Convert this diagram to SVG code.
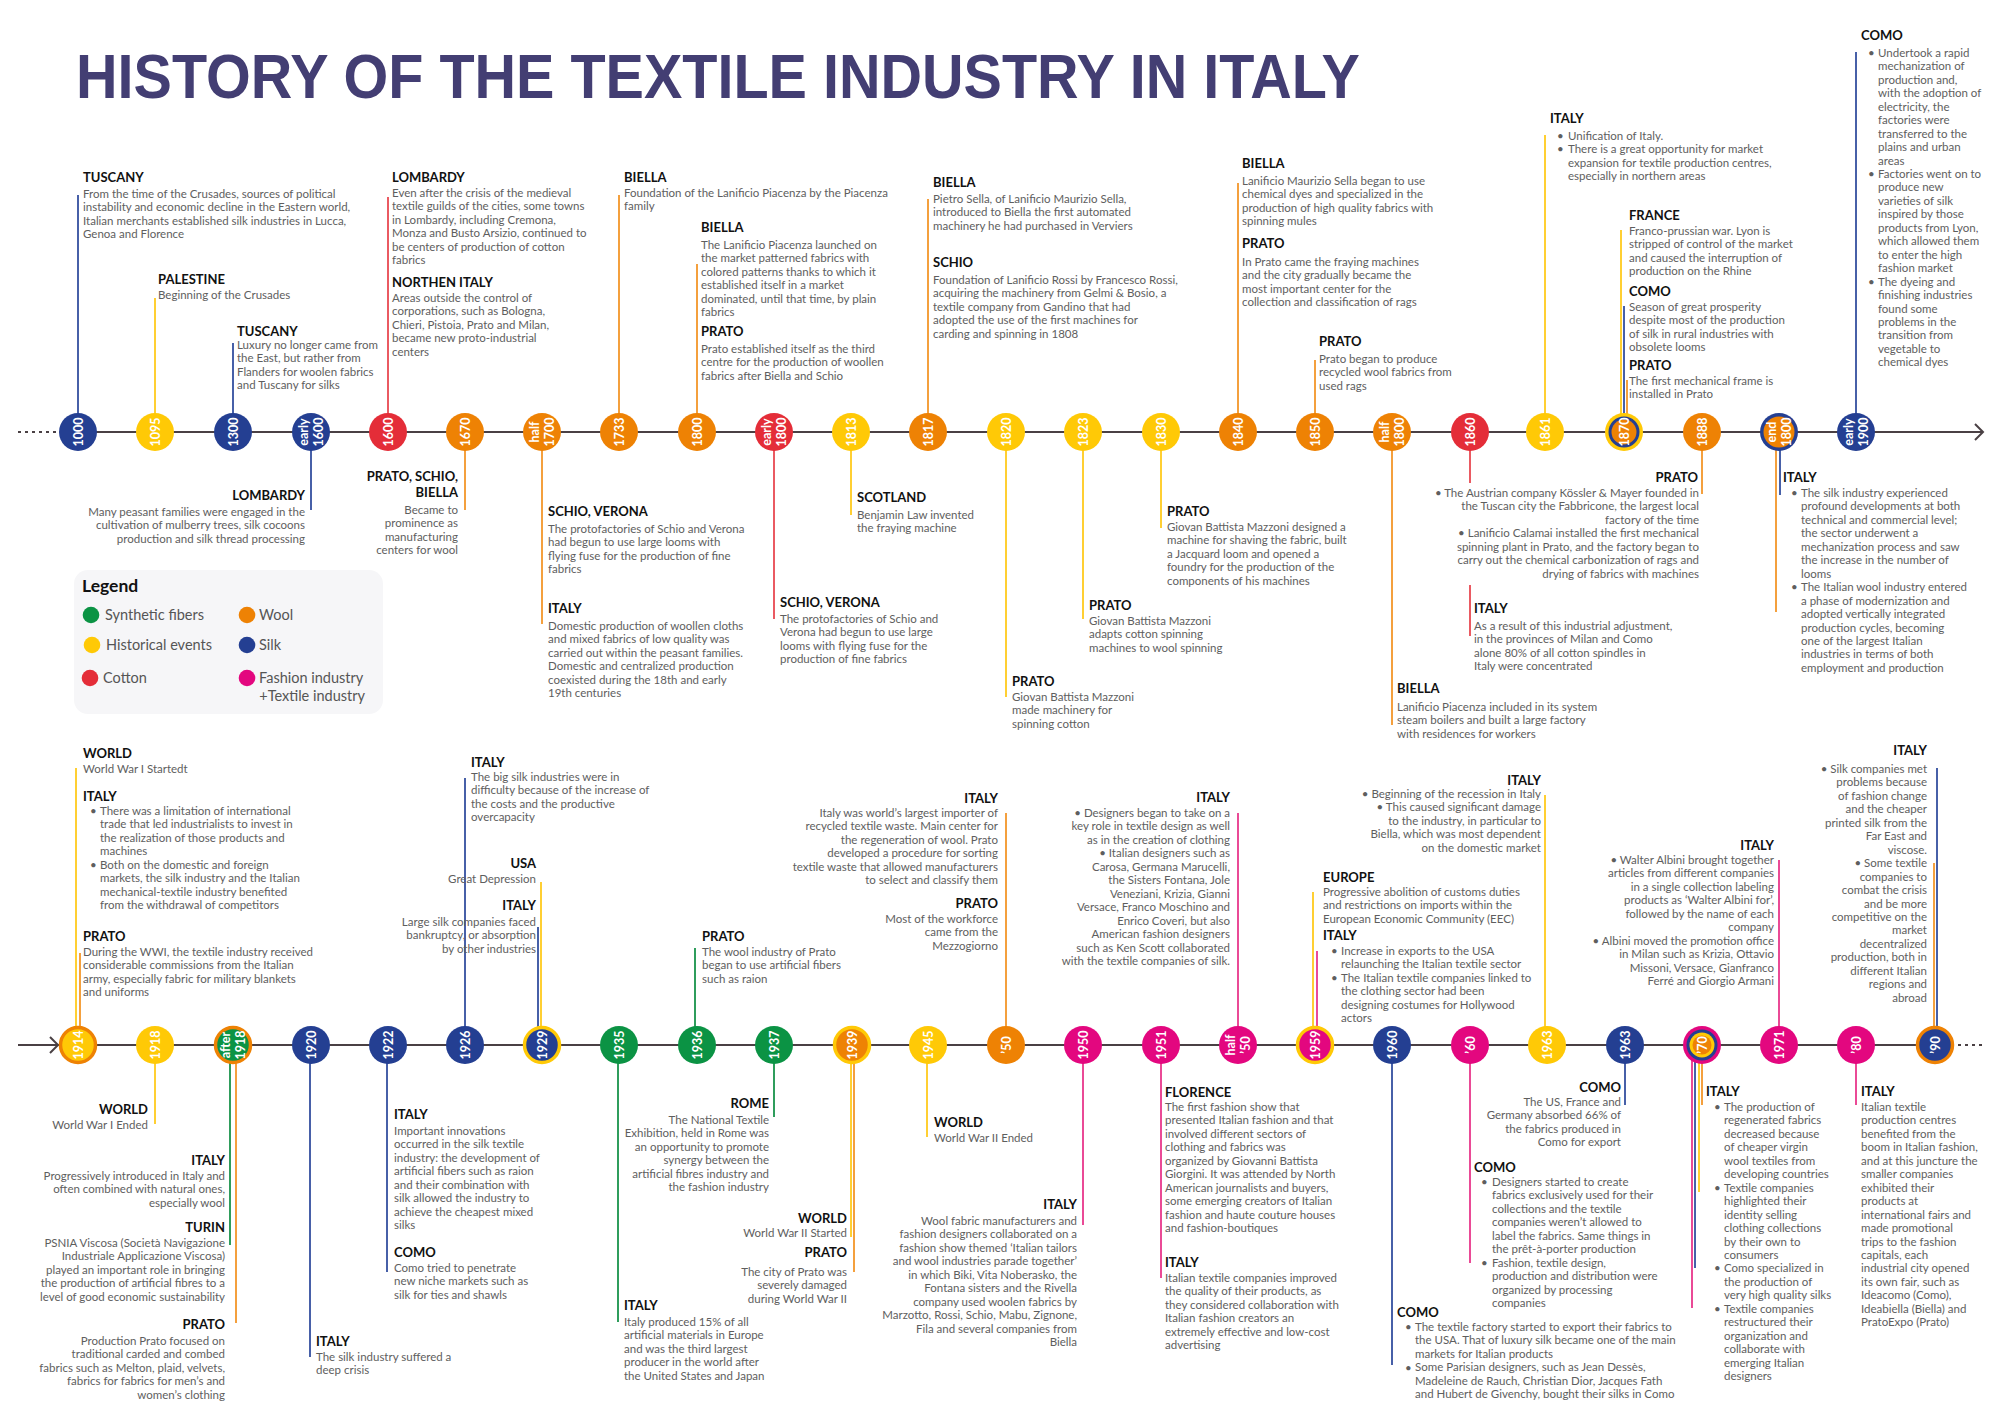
<svg xmlns="http://www.w3.org/2000/svg" width="2000" height="1415" viewBox="0 0 2000 1415">
<style>
.h{font-family:Lato,'Liberation Sans',sans-serif;font-weight:700;font-size:13px;fill:#111}
.t{font-family:Lato,'Liberation Sans',sans-serif;font-size:11.5px;fill:#5e5e5e}
.e{text-anchor:end}
.y{font-family:Lato,'Liberation Sans',sans-serif;font-weight:700;font-size:12.5px;fill:#fff;text-anchor:middle}
.lg{font-family:Lato,'Liberation Sans',sans-serif;font-size:14.5px;fill:#555}
.fb{fill:#243f92}.fo{fill:#ee8204}.fy{fill:#ffc906}.fr{fill:#e42d38}.fg{fill:#0b9344}.fm{fill:#e3077f}
#connectors line{stroke-width:2}
.cb{stroke:#4760a8}.co{stroke:#f4a03e}.cy{stroke:#ffcf33}.cr{stroke:#ea5a62}.cg{stroke:#2f9d5c}.cm{stroke:#ea4a96}
.axis{stroke:#4a4044;stroke-width:2;fill:none}
.dots{stroke:#4a4044;stroke-width:2;stroke-dasharray:3 4}
</style>
<rect width="2000" height="1415" fill="#fff"/>

<text x="76" y="98" font-family="'Liberation Sans',sans-serif" font-weight="700" font-size="63" fill="#433e73" textLength="1284" lengthAdjust="spacingAndGlyphs">HISTORY OF THE TEXTILE INDUSTRY IN ITALY</text>

<!-- axes -->
<g id="axes">
<line class="dots" x1="18" y1="432" x2="57" y2="432"/>
<line class="axis" x1="78" y1="432" x2="1982" y2="432"/>
<polyline class="axis" points="1975,424 1983,432 1975,440"/>
<line class="axis" x1="18" y1="1045" x2="1935" y2="1045"/>
<polyline class="axis" points="50,1037 58,1045 50,1053"/>
<line class="dots" x1="1958" y1="1045" x2="1985" y2="1045"/>
</g>

<!-- vertical leader lines -->
<g id="connectors">
<line class="cb" x1="78" y1="195" x2="78" y2="432"/>
<line class="cy" x1="155" y1="298" x2="155" y2="432"/>
<line class="cb" x1="233" y1="343" x2="233" y2="432"/>
<line class="cb" x1="311" y1="432" x2="311" y2="510"/>
<line class="cr" x1="388" y1="197" x2="388" y2="432"/>
<line class="co" x1="465" y1="432" x2="465" y2="510"/>
<line class="co" x1="542" y1="432" x2="542" y2="624"/>
<line class="co" x1="619" y1="195" x2="619" y2="432"/>
<line class="co" x1="697" y1="264" x2="697" y2="432"/>
<line class="cr" x1="774" y1="432" x2="774" y2="619"/>
<line class="cy" x1="851" y1="432" x2="851" y2="515"/>
<line class="co" x1="928" y1="199" x2="928" y2="432"/>
<line class="cy" x1="1006" y1="432" x2="1006" y2="697"/>
<line class="cy" x1="1083" y1="432" x2="1083" y2="619"/>
<line class="cy" x1="1161" y1="432" x2="1161" y2="528"/>
<line class="co" x1="1238" y1="183" x2="1238" y2="432"/>
<line class="co" x1="1315" y1="360" x2="1315" y2="432"/>
<line class="co" x1="1392" y1="432" x2="1392" y2="725"/>
<line class="cr" x1="1470" y1="432" x2="1470" y2="483"/>
<line class="cr" x1="1470" y1="585" x2="1470" y2="636"/>
<line class="cy" x1="1545" y1="135" x2="1545" y2="432"/>
<line class="cy" x1="1621" y1="230" x2="1621" y2="432"/>
<line class="cb" x1="1624" y1="306" x2="1624" y2="432"/>
<line class="co" x1="1627" y1="380" x2="1627" y2="432"/>
<line class="co" x1="1702" y1="432" x2="1702" y2="494"/>
<line class="co" x1="1776" y1="432" x2="1776" y2="612"/>
<line class="cb" x1="1780" y1="432" x2="1780" y2="495"/>
<line class="cb" x1="1856" y1="52" x2="1856" y2="432"/>

<line class="cy" x1="76" y1="768" x2="76" y2="1045"/>
<line class="co" x1="80" y1="953" x2="80" y2="1045"/>
<line class="cy" x1="155" y1="1045" x2="155" y2="1124"/>
<line class="cg" x1="230" y1="1045" x2="230" y2="1245"/>
<line class="co" x1="236" y1="1045" x2="236" y2="1323"/>
<line class="cb" x1="310" y1="1045" x2="310" y2="1357"/>
<line class="cb" x1="387" y1="1045" x2="387" y2="1272"/>
<line class="cb" x1="465" y1="778" x2="465" y2="1045"/>
<line class="cb" x1="538" y1="927" x2="538" y2="1045"/>
<line class="cy" x1="541" y1="882" x2="541" y2="1045"/>
<line class="cg" x1="618" y1="1045" x2="618" y2="1322"/>
<line class="cg" x1="695" y1="948" x2="695" y2="1045"/>
<line class="cg" x1="774" y1="1045" x2="774" y2="1117"/>
<line class="cy" x1="851" y1="1045" x2="851" y2="1237"/>
<line class="co" x1="854" y1="1045" x2="854" y2="1272"/>
<line class="cy" x1="927" y1="1045" x2="927" y2="1137"/>
<line class="co" x1="1006" y1="813" x2="1006" y2="1045"/>
<line class="cm" x1="1083" y1="1045" x2="1083" y2="1225"/>
<line class="cm" x1="1161" y1="1045" x2="1161" y2="1278"/>
<line class="cm" x1="1238" y1="813" x2="1238" y2="1045"/>
<line class="cy" x1="1313" y1="892" x2="1313" y2="1045"/>
<line class="cm" x1="1317" y1="951" x2="1317" y2="1045"/>
<line class="cb" x1="1392" y1="1045" x2="1392" y2="1365"/>
<line class="cm" x1="1470" y1="1045" x2="1470" y2="1263"/>
<line class="cy" x1="1545" y1="795" x2="1545" y2="1045"/>
<line class="cb" x1="1625" y1="1045" x2="1625" y2="1105"/>
<line class="cm" x1="1692" y1="1045" x2="1692" y2="1308"/>
<line class="cb" x1="1695" y1="1045" x2="1695" y2="1268"/>
<line class="cy" x1="1699" y1="1045" x2="1699" y2="1192"/>
<line class="co" x1="1702" y1="1045" x2="1702" y2="1105"/>
<line class="cm" x1="1779" y1="860" x2="1779" y2="1045"/>
<line class="cm" x1="1856" y1="1045" x2="1856" y2="1105"/>
<line class="co" x1="1934" y1="863" x2="1934" y2="1045"/>
<line class="cb" x1="1937" y1="768" x2="1937" y2="1045"/>
</g>

<!-- year markers, upper line -->
<g id="y1000" transform="translate(78,432)"><circle r="19" class="fb"/><text class="y" transform="rotate(-90)" y="4.5">1000</text></g>
<g id="y1095" transform="translate(155,432)"><circle r="19" class="fy"/><text class="y" transform="rotate(-90)" y="4.5">1095</text></g>
<g id="y1300" transform="translate(233,432)"><circle r="19" class="fb"/><text class="y" transform="rotate(-90)" y="4.5">1300</text></g>
<g id="yearly1600" transform="translate(311,432)"><circle r="19" class="fb"/><text class="y" transform="rotate(-90)"><tspan x="0" y="-3">early</tspan><tspan x="0" y="11.5">1600</tspan></text></g>
<g id="y1600" transform="translate(388,432)"><circle r="19" class="fr"/><text class="y" transform="rotate(-90)" y="4.5">1600</text></g>
<g id="y1670" transform="translate(465,432)"><circle r="19" class="fo"/><text class="y" transform="rotate(-90)" y="4.5">1670</text></g>
<g id="yhalf1700" transform="translate(542,432)"><circle r="19" class="fo"/><text class="y" transform="rotate(-90)"><tspan x="0" y="-3">half</tspan><tspan x="0" y="11.5">1700</tspan></text></g>
<g id="y1733" transform="translate(619,432)"><circle r="19" class="fo"/><text class="y" transform="rotate(-90)" y="4.5">1733</text></g>
<g id="y1800" transform="translate(697,432)"><circle r="19" class="fo"/><text class="y" transform="rotate(-90)" y="4.5">1800</text></g>
<g id="yearly1800" transform="translate(774,432)"><circle r="19" class="fr"/><text class="y" transform="rotate(-90)"><tspan x="0" y="-3">early</tspan><tspan x="0" y="11.5">1800</tspan></text></g>
<g id="y1813" transform="translate(851,432)"><circle r="19" class="fy"/><text class="y" transform="rotate(-90)" y="4.5">1813</text></g>
<g id="y1817" transform="translate(928,432)"><circle r="19" class="fo"/><text class="y" transform="rotate(-90)" y="4.5">1817</text></g>
<g id="y1820" transform="translate(1006,432)"><circle r="19" class="fy"/><text class="y" transform="rotate(-90)" y="4.5">1820</text></g>
<g id="y1823" transform="translate(1083,432)"><circle r="19" class="fy"/><text class="y" transform="rotate(-90)" y="4.5">1823</text></g>
<g id="y1830" transform="translate(1161,432)"><circle r="19" class="fy"/><text class="y" transform="rotate(-90)" y="4.5">1830</text></g>
<g id="y1840" transform="translate(1238,432)"><circle r="19" class="fo"/><text class="y" transform="rotate(-90)" y="4.5">1840</text></g>
<g id="y1850" transform="translate(1315,432)"><circle r="19" class="fo"/><text class="y" transform="rotate(-90)" y="4.5">1850</text></g>
<g id="yhalf1800" transform="translate(1392,432)"><circle r="19" class="fo"/><text class="y" transform="rotate(-90)"><tspan x="0" y="-3">half</tspan><tspan x="0" y="11.5">1800</tspan></text></g>
<g id="y1860" transform="translate(1470,432)"><circle r="19" class="fr"/><text class="y" transform="rotate(-90)" y="4.5">1860</text></g>
<g id="y1861" transform="translate(1545,432)"><circle r="19" class="fy"/><text class="y" transform="rotate(-90)" y="4.5">1861</text></g>
<g id="y1870" transform="translate(1624,432)"><circle r="19" class="fy"/><circle r="15.5" class="fb"/><circle r="12.5" class="fo"/><text class="y" transform="rotate(-90)" y="4.5">1870</text></g>
<g id="y1888" transform="translate(1702,432)"><circle r="19" class="fo"/><text class="y" transform="rotate(-90)" y="4.5">1888</text></g>
<g id="yend1800" transform="translate(1779,432)"><circle r="19" class="fb"/><circle r="15.5" class="fo"/><text class="y" transform="rotate(-90)"><tspan x="0" y="-3">end</tspan><tspan x="0" y="11.5">1800</tspan></text></g>
<g id="yearly1900" transform="translate(1856,432)"><circle r="19" class="fb"/><text class="y" transform="rotate(-90)"><tspan x="0" y="-3">early</tspan><tspan x="0" y="11.5">1900</tspan></text></g>

<!-- year markers, lower line -->
<g id="y1914" transform="translate(78,1045)"><circle r="17.5" class="fy" stroke="#ee8204" stroke-width="3.5"/><text class="y" transform="rotate(-90)" y="4.5">1914</text></g>
<g id="y1918" transform="translate(155,1045)"><circle r="19" class="fy"/><text class="y" transform="rotate(-90)" y="4.5">1918</text></g>
<g id="yafter1918" transform="translate(233,1045)"><circle r="17.5" class="fg" stroke="#ee8204" stroke-width="3.5"/><text class="y" transform="rotate(-90)"><tspan x="0" y="-3">after</tspan><tspan x="0" y="11.5">1918</tspan></text></g>
<g id="y1920" transform="translate(311,1045)"><circle r="19" class="fb"/><text class="y" transform="rotate(-90)" y="4.5">1920</text></g>
<g id="y1922" transform="translate(388,1045)"><circle r="19" class="fb"/><text class="y" transform="rotate(-90)" y="4.5">1922</text></g>
<g id="y1926" transform="translate(465,1045)"><circle r="19" class="fb"/><text class="y" transform="rotate(-90)" y="4.5">1926</text></g>
<g id="y1929" transform="translate(542,1045)"><circle r="17.5" class="fb" stroke="#ffc906" stroke-width="3.5"/><text class="y" transform="rotate(-90)" y="4.5">1929</text></g>
<g id="y1935" transform="translate(619,1045)"><circle r="19" class="fg"/><text class="y" transform="rotate(-90)" y="4.5">1935</text></g>
<g id="y1936" transform="translate(697,1045)"><circle r="19" class="fg"/><text class="y" transform="rotate(-90)" y="4.5">1936</text></g>
<g id="y1937" transform="translate(774,1045)"><circle r="19" class="fg"/><text class="y" transform="rotate(-90)" y="4.5">1937</text></g>
<g id="y1939" transform="translate(852,1045)"><circle r="17.5" class="fo" stroke="#ffc906" stroke-width="3.5"/><text class="y" transform="rotate(-90)" y="4.5">1939</text></g>
<g id="y1945" transform="translate(928,1045)"><circle r="19" class="fy"/><text class="y" transform="rotate(-90)" y="4.5">1945</text></g>
<g id="y50" transform="translate(1006,1045)"><circle r="19" class="fo"/><text class="y" transform="rotate(-90)" y="4.5">’50</text></g>
<g id="y1950" transform="translate(1083,1045)"><circle r="19" class="fm"/><text class="y" transform="rotate(-90)" y="4.5">1950</text></g>
<g id="y1951" transform="translate(1161,1045)"><circle r="19" class="fm"/><text class="y" transform="rotate(-90)" y="4.5">1951</text></g>
<g id="yhalf50" transform="translate(1238,1045)"><circle r="19" class="fm"/><text class="y" transform="rotate(-90)"><tspan x="0" y="-3">half</tspan><tspan x="0" y="11.5">’50</tspan></text></g>
<g id="y1959" transform="translate(1315,1045)"><circle r="17.5" class="fm" stroke="#ffc906" stroke-width="3.5"/><text class="y" transform="rotate(-90)" y="4.5">1959</text></g>
<g id="y1960" transform="translate(1392,1045)"><circle r="19" class="fb"/><text class="y" transform="rotate(-90)" y="4.5">1960</text></g>
<g id="y60" transform="translate(1470,1045)"><circle r="19" class="fm"/><text class="y" transform="rotate(-90)" y="4.5">’60</text></g>
<g id="y1963a" transform="translate(1547,1045)"><circle r="19" class="fy"/><text class="y" transform="rotate(-90)" y="4.5">1963</text></g>
<g id="y1963b" transform="translate(1625,1045)"><circle r="19" class="fb"/><text class="y" transform="rotate(-90)" y="4.5">1963</text></g>
<g id="y70" transform="translate(1702,1045)"><circle r="19" class="fm"/><circle r="15.5" class="fb"/><circle r="12.5" class="fy"/><circle r="9.5" class="fo"/><text class="y" transform="rotate(-90)" y="4.5" font-size="11">’70</text></g>
<g id="y1971" transform="translate(1779,1045)"><circle r="19" class="fm"/><text class="y" transform="rotate(-90)" y="4.5">1971</text></g>
<g id="y80" transform="translate(1856,1045)"><circle r="19" class="fm"/><text class="y" transform="rotate(-90)" y="4.5">’80</text></g>
<g id="y90" transform="translate(1935,1045)"><circle r="17.5" class="fb" stroke="#ee8204" stroke-width="3.5"/><text class="y" transform="rotate(-90)" y="4.5">’90</text></g>

<!-- legend -->
<g id="legend">
<rect x="74" y="570" width="309" height="144" rx="14" fill="#f6f6f8"/>
<text x="82" y="592" font-family="Lato,'Liberation Sans',sans-serif" font-weight="700" font-size="17.5" fill="#111">Legend</text>
<circle cx="91" cy="615" r="8.3" class="fg"/><text class="lg" x="105" y="620">Synthetic fibers</text>
<circle cx="92" cy="645" r="8.3" class="fy"/><text class="lg" x="106" y="650">Historical events</text>
<circle cx="90" cy="678" r="8.3" class="fr"/><text class="lg" x="103" y="683">Cotton</text>
<circle cx="247" cy="615" r="8.3" class="fo"/><text class="lg" x="259" y="620">Wool</text>
<circle cx="247" cy="645" r="8.3" class="fb"/><text class="lg" x="259" y="650">Silk</text>
<circle cx="247" cy="678" r="8.3" class="fm"/><text class="lg" x="259" y="683">Fashion industry</text>
<text class="lg e" x="365" y="701">+Textile industry</text>
</g>

<!-- upper line annotations -->
<g id="n1000">
<text class="h" x="83" y="182">TUSCANY</text>
<text class="t"><tspan x="83" y="198">From the time of the Crusades, sources of political</tspan><tspan x="83" dy="13.45">instability and economic decline in the Eastern world,</tspan><tspan x="83" dy="13.45">Italian merchants established silk industries in Lucca,</tspan><tspan x="83" dy="13.45">Genoa and Florence</tspan></text>
</g>
<g id="n1095">
<text class="h" x="158" y="284">PALESTINE</text>
<text class="t" x="158" y="299">Beginning of the Crusades</text>
</g>
<g id="n1300">
<text class="h" x="237" y="336">TUSCANY</text>
<text class="t"><tspan x="237" y="349">Luxury no longer came from</tspan><tspan x="237" dy="13.45">the East, but rather from</tspan><tspan x="237" dy="13.45">Flanders for woolen fabrics</tspan><tspan x="237" dy="13.45">and Tuscany for silks</tspan></text>
</g>
<g id="nearly1600">
<text class="h e" x="305" y="500">LOMBARDY</text>
<text class="t e"><tspan x="305" y="516">Many peasant families were engaged in the</tspan><tspan x="305" dy="13.45">cultivation of mulberry trees, silk cocoons</tspan><tspan x="305" dy="13.45">production and silk thread processing</tspan></text>
</g>
<g id="n1600">
<text class="h" x="392" y="182">LOMBARDY</text>
<text class="t"><tspan x="392" y="197">Even after the crisis of the medieval</tspan><tspan x="392" dy="13.45">textile guilds of the cities, some towns</tspan><tspan x="392" dy="13.45">in Lombardy, including Cremona,</tspan><tspan x="392" dy="13.45">Monza and Busto Arsizio, continued to</tspan><tspan x="392" dy="13.45">be centers of production of cotton</tspan><tspan x="392" dy="13.45">fabrics</tspan></text>
<text class="h" x="392" y="287">NORTHEN ITALY</text>
<text class="t"><tspan x="392" y="302">Areas outside the control of</tspan><tspan x="392" dy="13.45">corporations, such as Bologna,</tspan><tspan x="392" dy="13.45">Chieri, Pistoia, Prato and Milan,</tspan><tspan x="392" dy="13.45">became new proto-industrial</tspan><tspan x="392" dy="13.45">centers</tspan></text>
</g>
<g id="n1670">
<text class="h e"><tspan x="458" y="481">PRATO, SCHIO,</tspan><tspan x="458" y="497">BIELLA</tspan></text>
<text class="t e"><tspan x="458" y="514">Became to</tspan><tspan x="458" dy="13.45">prominence as</tspan><tspan x="458" dy="13.45">manufacturing</tspan><tspan x="458" dy="13.45">centers for wool</tspan></text>
</g>
<g id="nhalf1700">
<text class="h" x="548" y="516">SCHIO, VERONA</text>
<text class="t"><tspan x="548" y="533">The protofactories of Schio and Verona</tspan><tspan x="548" dy="13.45">had begun to use large looms with</tspan><tspan x="548" dy="13.45">flying fuse for the production of fine</tspan><tspan x="548" dy="13.45">fabrics</tspan></text>
<text class="h" x="548" y="613">ITALY</text>
<text class="t"><tspan x="548" y="630">Domestic production of woollen cloths</tspan><tspan x="548" dy="13.45">and mixed fabrics of low quality was</tspan><tspan x="548" dy="13.45">carried out within the peasant families.</tspan><tspan x="548" dy="13.45">Domestic and centralized production</tspan><tspan x="548" dy="13.45">coexisted during the 18th and early</tspan><tspan x="548" dy="13.45">19th centuries</tspan></text>
</g>
<g id="n1733">
<text class="h" x="624" y="182">BIELLA</text>
<text class="t"><tspan x="624" y="197">Foundation of the Lanificio Piacenza by the Piacenza</tspan><tspan x="624" dy="13.45">family</tspan></text>
</g>
<g id="n1800">
<text class="h" x="701" y="232">BIELLA</text>
<text class="t"><tspan x="701" y="249">The Lanificio Piacenza launched on</tspan><tspan x="701" dy="13.45">the market patterned fabrics with</tspan><tspan x="701" dy="13.45">colored patterns thanks to which it</tspan><tspan x="701" dy="13.45">established itself in a market</tspan><tspan x="701" dy="13.45">dominated, until that time, by plain</tspan><tspan x="701" dy="13.45">fabrics</tspan></text>
<text class="h" x="701" y="336">PRATO</text>
<text class="t"><tspan x="701" y="353">Prato established itself as the third</tspan><tspan x="701" dy="13.45">centre for the production of woollen</tspan><tspan x="701" dy="13.45">fabrics after Biella and Schio</tspan></text>
</g>
<g id="nearly1800">
<text class="h" x="780" y="607">SCHIO, VERONA</text>
<text class="t"><tspan x="780" y="623">The protofactories of Schio and</tspan><tspan x="780" dy="13.45">Verona had begun to use large</tspan><tspan x="780" dy="13.45">looms with flying fuse for the</tspan><tspan x="780" dy="13.45">production of fine fabrics</tspan></text>
</g>
<g id="n1813">
<text class="h" x="857" y="502">SCOTLAND</text>
<text class="t"><tspan x="857" y="519">Benjamin Law invented</tspan><tspan x="857" dy="13.45">the fraying machine</tspan></text>
</g>
<g id="n1817">
<text class="h" x="933" y="187">BIELLA</text>
<text class="t"><tspan x="933" y="203">Pietro Sella, of Lanificio Maurizio Sella,</tspan><tspan x="933" dy="13.45">introduced to Biella the first automated</tspan><tspan x="933" dy="13.45">machinery he had purchased in Verviers</tspan></text>
<text class="h" x="933" y="267">SCHIO</text>
<text class="t"><tspan x="933" y="284">Foundation of Lanificio Rossi by Francesco Rossi,</tspan><tspan x="933" dy="13.45">acquiring the machinery from Gelmi &amp; Bosio, a</tspan><tspan x="933" dy="13.45">textile company from Gandino that had</tspan><tspan x="933" dy="13.45">adopted the use of the first machines for</tspan><tspan x="933" dy="13.45">carding and spinning in 1808</tspan></text>
</g>
<g id="n1820">
<text class="h" x="1012" y="686">PRATO</text>
<text class="t"><tspan x="1012" y="701">Giovan Battista Mazzoni</tspan><tspan x="1012" dy="13.45">made machinery for</tspan><tspan x="1012" dy="13.45">spinning cotton</tspan></text>
</g>
<g id="n1823">
<text class="h" x="1089" y="610">PRATO</text>
<text class="t"><tspan x="1089" y="625">Giovan Battista Mazzoni</tspan><tspan x="1089" dy="13.45">adapts cotton spinning</tspan><tspan x="1089" dy="13.45">machines to wool spinning</tspan></text>
</g>
<g id="n1830">
<text class="h" x="1167" y="516">PRATO</text>
<text class="t"><tspan x="1167" y="531">Giovan Battista Mazzoni designed a</tspan><tspan x="1167" dy="13.45">machine for shaving the fabric, built</tspan><tspan x="1167" dy="13.45">a Jacquard loom and opened a</tspan><tspan x="1167" dy="13.45">foundry for the production of the</tspan><tspan x="1167" dy="13.45">components of his machines</tspan></text>
</g>
<g id="n1840">
<text class="h" x="1242" y="168">BIELLA</text>
<text class="t"><tspan x="1242" y="185">Lanificio Maurizio Sella began to use</tspan><tspan x="1242" dy="13.45">chemical dyes and specialized in the</tspan><tspan x="1242" dy="13.45">production of high quality fabrics with</tspan><tspan x="1242" dy="13.45">spinning mules</tspan></text>
<text class="h" x="1242" y="248">PRATO</text>
<text class="t"><tspan x="1242" y="266">In Prato came the fraying machines</tspan><tspan x="1242" dy="13.45">and the city gradually became the</tspan><tspan x="1242" dy="13.45">most important center for the</tspan><tspan x="1242" dy="13.45">collection and classification of rags</tspan></text>
</g>
<g id="n1850">
<text class="h" x="1319" y="346">PRATO</text>
<text class="t"><tspan x="1319" y="363">Prato began to produce</tspan><tspan x="1319" dy="13.45">recycled wool fabrics from</tspan><tspan x="1319" dy="13.45">used rags</tspan></text>
</g>
<g id="nhalf1800">
<text class="h" x="1397" y="693">BIELLA</text>
<text class="t"><tspan x="1397" y="711">Lanificio Piacenza included in its system</tspan><tspan x="1397" dy="13.45">steam boilers and built a large factory</tspan><tspan x="1397" dy="13.45">with residences for workers</tspan></text>
</g>
<g id="n1860">
<text class="h" x="1474" y="613">ITALY</text>
<text class="t"><tspan x="1474" y="630">As a result of this industrial adjustment,</tspan><tspan x="1474" dy="13.45">in the provinces of Milan and Como</tspan><tspan x="1474" dy="13.45">alone 80% of all cotton spindles in</tspan><tspan x="1474" dy="13.45">Italy were concentrated</tspan></text>
</g>
<g id="n1888">
<text class="h e" x="1698" y="482">PRATO</text>
<text class="t e"><tspan x="1699" y="497">•  The Austrian company Kössler &amp; Mayer founded in</tspan><tspan x="1699" dy="13.45">the Tuscan city the Fabbricone, the largest local</tspan><tspan x="1699" dy="13.45">factory of the time</tspan><tspan x="1699" dy="13.45">•  Lanificio Calamai installed the first mechanical</tspan><tspan x="1699" dy="13.45">spinning plant in Prato, and the factory began to</tspan><tspan x="1699" dy="13.45">carry out the chemical carbonization of rags and</tspan><tspan x="1699" dy="13.45">drying of fabrics with machines</tspan></text>
</g>
<g id="n1861">
<text class="h" x="1550" y="123">ITALY</text>
<text class="t" fill="#222"><tspan x="1557" y="140">•</tspan><tspan x="1557" y="153">•</tspan></text>
<text class="t"><tspan x="1568" y="140">Unification of Italy.</tspan><tspan x="1568" dy="13.45">There is a great opportunity for market</tspan><tspan x="1568" dy="13.45">expansion for textile production centres,</tspan><tspan x="1568" dy="13.45">especially in northern areas</tspan></text>
</g>
<g id="n1870">
<text class="h" x="1629" y="220">FRANCE</text>
<text class="t"><tspan x="1629" y="235">Franco-prussian war. Lyon is</tspan><tspan x="1629" dy="13.45">stripped of control of the market</tspan><tspan x="1629" dy="13.45">and caused the interruption of</tspan><tspan x="1629" dy="13.45">production on the Rhine</tspan></text>
<text class="h" x="1629" y="296">COMO</text>
<text class="t"><tspan x="1629" y="311">Season of great prosperity</tspan><tspan x="1629" dy="13.45">despite most of the production</tspan><tspan x="1629" dy="13.45">of silk in rural industries with</tspan><tspan x="1629" dy="13.45">obsolete looms</tspan></text>
<text class="h" x="1629" y="370">PRATO</text>
<text class="t"><tspan x="1629" y="385">The first mechanical frame is</tspan><tspan x="1629" dy="13.45">installed in Prato</tspan></text>
</g>
<g id="nend1800">
<text class="h" x="1783" y="482">ITALY</text>
<text class="t" fill="#222"><tspan x="1791" y="497">•</tspan><tspan x="1791" y="591">•</tspan></text>
<text class="t"><tspan x="1801" y="497">The silk industry experienced</tspan><tspan x="1801" dy="13.45">profound developments at both</tspan><tspan x="1801" dy="13.45">technical and commercial level;</tspan><tspan x="1801" dy="13.45">the sector underwent a</tspan><tspan x="1801" dy="13.45">mechanization process and saw</tspan><tspan x="1801" dy="13.45">the increase in the number of</tspan><tspan x="1801" dy="13.45">looms</tspan><tspan x="1801" dy="13.45">The Italian wool industry entered</tspan><tspan x="1801" dy="13.45">a phase of modernization and</tspan><tspan x="1801" dy="13.45">adopted vertically integrated</tspan><tspan x="1801" dy="13.45">production cycles, becoming</tspan><tspan x="1801" dy="13.45">one of the largest Italian</tspan><tspan x="1801" dy="13.45">industries in terms of both</tspan><tspan x="1801" dy="13.45">employment and production</tspan></text>
</g>
<g id="nearly1900">
<text class="h" x="1861" y="40">COMO</text>
<text class="t" fill="#222"><tspan x="1868" y="57">•</tspan><tspan x="1868" y="178">•</tspan><tspan x="1868" y="286">•</tspan></text>
<text class="t"><tspan x="1878" y="57">Undertook a rapid</tspan><tspan x="1878" dy="13.45">mechanization of</tspan><tspan x="1878" dy="13.45">production and,</tspan><tspan x="1878" dy="13.45">with the adoption of</tspan><tspan x="1878" dy="13.45">electricity, the</tspan><tspan x="1878" dy="13.45">factories were</tspan><tspan x="1878" dy="13.45">transferred to the</tspan><tspan x="1878" dy="13.45">plains and urban</tspan><tspan x="1878" dy="13.45">areas</tspan><tspan x="1878" dy="13.45">Factories went on to</tspan><tspan x="1878" dy="13.45">produce new</tspan><tspan x="1878" dy="13.45">varieties of silk</tspan><tspan x="1878" dy="13.45">inspired by those</tspan><tspan x="1878" dy="13.45">products from Lyon,</tspan><tspan x="1878" dy="13.45">which allowed them</tspan><tspan x="1878" dy="13.45">to enter the high</tspan><tspan x="1878" dy="13.45">fashion market</tspan><tspan x="1878" dy="13.45">The dyeing and</tspan><tspan x="1878" dy="13.45">finishing industries</tspan><tspan x="1878" dy="13.45">found some</tspan><tspan x="1878" dy="13.45">problems in the</tspan><tspan x="1878" dy="13.45">transition from</tspan><tspan x="1878" dy="13.45">vegetable to</tspan><tspan x="1878" dy="13.45">chemical dyes</tspan></text>
</g>

<!-- lower line annotations -->
<g id="n1914">
<text class="h" x="83" y="758">WORLD</text>
<text class="t" x="83" y="773">World War I Startedt</text>
<text class="h" x="83" y="801">ITALY</text>
<text class="t" fill="#222"><tspan x="90" y="815">•</tspan><tspan x="90" y="869">•</tspan></text>
<text class="t"><tspan x="100" y="815">There was a limitation of international</tspan><tspan x="100" dy="13.45">trade that led industrialists to invest in</tspan><tspan x="100" dy="13.45">the realization of those products and</tspan><tspan x="100" dy="13.45">machines</tspan><tspan x="100" dy="13.45">Both on the domestic and foreign</tspan><tspan x="100" dy="13.45">markets, the silk industry and the Italian</tspan><tspan x="100" dy="13.45">mechanical-textile industry benefited</tspan><tspan x="100" dy="13.45">from the withdrawal of competitors</tspan></text>
<text class="h" x="83" y="941">PRATO</text>
<text class="t"><tspan x="83" y="956">During the WWI, the textile industry received</tspan><tspan x="83" dy="13.45">considerable commissions from the Italian</tspan><tspan x="83" dy="13.45">army, especially fabric for military blankets</tspan><tspan x="83" dy="13.45">and uniforms</tspan></text>
</g>
<g id="n1918">
<text class="h e" x="148" y="1114">WORLD</text>
<text class="t e" x="148" y="1129">World War I Ended</text>
</g>
<g id="nafter1918">
<text class="h e" x="225" y="1165">ITALY</text>
<text class="t e"><tspan x="225" y="1180">Progressively introduced in Italy and</tspan><tspan x="225" dy="13.45">often combined with natural ones,</tspan><tspan x="225" dy="13.45">especially wool</tspan></text>
<text class="h e" x="225" y="1232">TURIN</text>
<text class="t e"><tspan x="225" y="1247">PSNIA Viscosa (Società Navigazione</tspan><tspan x="225" dy="13.45">Industriale Applicazione Viscosa)</tspan><tspan x="225" dy="13.45">played an important role in bringing</tspan><tspan x="225" dy="13.45">the production of artificial fibres to a</tspan><tspan x="225" dy="13.45">level of good economic sustainability</tspan></text>
<text class="h e" x="225" y="1329">PRATO</text>
<text class="t e"><tspan x="225" y="1345">Production Prato focused on</tspan><tspan x="225" dy="13.45">traditional carded and combed</tspan><tspan x="225" dy="13.45">fabrics such as Melton, plaid, velvets,</tspan><tspan x="225" dy="13.45">fabrics for fabrics for men’s and</tspan><tspan x="225" dy="13.45">women’s clothing</tspan></text>
</g>
<g id="n1920">
<text class="h" x="316" y="1346">ITALY</text>
<text class="t"><tspan x="316" y="1361">The silk industry suffered a</tspan><tspan x="316" dy="13.45">deep crisis</tspan></text>
</g>
<g id="n1922">
<text class="h" x="394" y="1119">ITALY</text>
<text class="t"><tspan x="394" y="1135">Important innovations</tspan><tspan x="394" dy="13.45">occurred in the silk textile</tspan><tspan x="394" dy="13.45">industry: the development of</tspan><tspan x="394" dy="13.45">artificial fibers such as raion</tspan><tspan x="394" dy="13.45">and their combination with</tspan><tspan x="394" dy="13.45">silk allowed the industry to</tspan><tspan x="394" dy="13.45">achieve the cheapest mixed</tspan><tspan x="394" dy="13.45">silks</tspan></text>
<text class="h" x="394" y="1257">COMO</text>
<text class="t"><tspan x="394" y="1272">Como tried to penetrate</tspan><tspan x="394" dy="13.45">new niche markets such as</tspan><tspan x="394" dy="13.45">silk for ties and shawls</tspan></text>
</g>
<g id="n1926">
<text class="h" x="471" y="767">ITALY</text>
<text class="t"><tspan x="471" y="781">The big silk industries were in</tspan><tspan x="471" dy="13.45">difficulty because of the increase of</tspan><tspan x="471" dy="13.45">the costs and the productive</tspan><tspan x="471" dy="13.45">overcapacity</tspan></text>
</g>
<g id="n1929">
<text class="h e" x="536" y="868">USA</text>
<text class="t e" x="536" y="883">Great Depression</text>
<text class="h e" x="536" y="910">ITALY</text>
<text class="t e"><tspan x="536" y="926">Large silk companies faced</tspan><tspan x="536" dy="13.45">bankruptcy, or absorption</tspan><tspan x="536" dy="13.45">by other industries</tspan></text>
</g>
<g id="n1935">
<text class="h" x="624" y="1310">ITALY</text>
<text class="t"><tspan x="624" y="1326">Italy produced 15% of all</tspan><tspan x="624" dy="13.45">artificial materials in Europe</tspan><tspan x="624" dy="13.45">and was the third largest</tspan><tspan x="624" dy="13.45">producer in the world after</tspan><tspan x="624" dy="13.45">the United States and Japan</tspan></text>
</g>
<g id="n1936">
<text class="h" x="702" y="941">PRATO</text>
<text class="t"><tspan x="702" y="956">The wool industry of Prato</tspan><tspan x="702" dy="13.45">began to use artificial fibers</tspan><tspan x="702" dy="13.45">such as raion</tspan></text>
</g>
<g id="n1937">
<text class="h e" x="769" y="1108">ROME</text>
<text class="t e"><tspan x="769" y="1124">The National Textile</tspan><tspan x="769" dy="13.45">Exhibition, held in Rome was</tspan><tspan x="769" dy="13.45">an opportunity to promote</tspan><tspan x="769" dy="13.45">synergy between the</tspan><tspan x="769" dy="13.45">artificial fibres industry and</tspan><tspan x="769" dy="13.45">the fashion industry</tspan></text>
</g>
<g id="n1939">
<text class="h e" x="847" y="1223">WORLD</text>
<text class="t e" x="847" y="1237">World War II Started</text>
<text class="h e" x="847" y="1257">PRATO</text>
<text class="t e"><tspan x="847" y="1276">The city of Prato was</tspan><tspan x="847" dy="13.45">severely damaged</tspan><tspan x="847" dy="13.45">during World War II</tspan></text>
</g>
<g id="n1945">
<text class="h" x="934" y="1127">WORLD</text>
<text class="t" x="934" y="1142">World War II Ended</text>
</g>
<g id="n50">
<text class="h e" x="998" y="803">ITALY</text>
<text class="t e"><tspan x="998" y="817">Italy was world’s largest importer of</tspan><tspan x="998" dy="13.45">recycled textile waste. Main center for</tspan><tspan x="998" dy="13.45">the regeneration of wool. Prato</tspan><tspan x="998" dy="13.45">developed a procedure for sorting</tspan><tspan x="998" dy="13.45">textile waste that allowed manufacturers</tspan><tspan x="998" dy="13.45">to select and classify them</tspan></text>
<text class="h e" x="998" y="908">PRATO</text>
<text class="t e"><tspan x="998" y="923">Most of the workforce</tspan><tspan x="998" dy="13.45">came from the</tspan><tspan x="998" dy="13.45">Mezzogiorno</tspan></text>
</g>
<g id="n1950">
<text class="h e" x="1077" y="1209">ITALY</text>
<text class="t e"><tspan x="1077" y="1225">Wool fabric manufacturers and</tspan><tspan x="1077" dy="13.45">fashion designers collaborated on a</tspan><tspan x="1077" dy="13.45">fashion show themed ‘Italian tailors</tspan><tspan x="1077" dy="13.45">and wool industries parade together’</tspan><tspan x="1077" dy="13.45">in which Biki, Vita Noberasko, the</tspan><tspan x="1077" dy="13.45">Fontana sisters and the Rivella</tspan><tspan x="1077" dy="13.45">company used woolen fabrics by</tspan><tspan x="1077" dy="13.45">Marzotto, Rossi, Schio, Mabu, Zignone,</tspan><tspan x="1077" dy="13.45">Fila and several companies from</tspan><tspan x="1077" dy="13.45">Biella</tspan></text>
</g>
<g id="n1951">
<text class="h" x="1165" y="1097">FLORENCE</text>
<text class="t"><tspan x="1165" y="1111">The first fashion show that</tspan><tspan x="1165" dy="13.45">presented Italian fashion and that</tspan><tspan x="1165" dy="13.45">involved different sectors of</tspan><tspan x="1165" dy="13.45">clothing and fabrics was</tspan><tspan x="1165" dy="13.45">organized by Giovanni Battista</tspan><tspan x="1165" dy="13.45">Giorgini. It was attended by North</tspan><tspan x="1165" dy="13.45">American journalists and buyers,</tspan><tspan x="1165" dy="13.45">some emerging creators of Italian</tspan><tspan x="1165" dy="13.45">fashion and haute couture houses</tspan><tspan x="1165" dy="13.45">and fashion-boutiques</tspan></text>
<text class="h" x="1165" y="1267">ITALY</text>
<text class="t"><tspan x="1165" y="1282">Italian textile companies improved</tspan><tspan x="1165" dy="13.45">the quality of their products, as</tspan><tspan x="1165" dy="13.45">they considered collaboration with</tspan><tspan x="1165" dy="13.45">Italian fashion creators an</tspan><tspan x="1165" dy="13.45">extremely effective and low-cost</tspan><tspan x="1165" dy="13.45">advertising</tspan></text>
</g>
<g id="nhalf50">
<text class="h e" x="1230" y="802">ITALY</text>
<text class="t e"><tspan x="1230" y="817">•  Designers began to take on a</tspan><tspan x="1230" dy="13.45">key role in textile design as well</tspan><tspan x="1230" dy="13.45">as in the creation of clothing</tspan><tspan x="1230" dy="13.45">•  Italian designers such as</tspan><tspan x="1230" dy="13.45">Carosa, Germana Marucelli,</tspan><tspan x="1230" dy="13.45">the Sisters Fontana, Jole</tspan><tspan x="1230" dy="13.45">Veneziani, Krizia, Gianni</tspan><tspan x="1230" dy="13.45">Versace, Franco Moschino and</tspan><tspan x="1230" dy="13.45">Enrico Coveri, but also</tspan><tspan x="1230" dy="13.45">American fashion designers</tspan><tspan x="1230" dy="13.45">such as Ken Scott collaborated</tspan><tspan x="1230" dy="13.45">with the textile companies of silk.</tspan></text>
</g>
<g id="n1959">
<text class="h" x="1323" y="882">EUROPE</text>
<text class="t"><tspan x="1323" y="896">Progressive abolition of customs duties</tspan><tspan x="1323" dy="13.45">and restrictions on imports within the</tspan><tspan x="1323" dy="13.45">European Economic Community (EEC)</tspan></text>
<text class="h" x="1323" y="940">ITALY</text>
<text class="t" fill="#222"><tspan x="1331" y="955">•</tspan><tspan x="1331" y="982">•</tspan></text>
<text class="t"><tspan x="1341" y="955">Increase in exports to the USA</tspan><tspan x="1341" dy="13.45">relaunching the Italian textile sector</tspan><tspan x="1341" dy="13.45">The Italian textile companies linked to</tspan><tspan x="1341" dy="13.45">the clothing sector had been</tspan><tspan x="1341" dy="13.45">designing costumes for Hollywood</tspan><tspan x="1341" dy="13.45">actors</tspan></text>
</g>
<g id="n1960">
<text class="h" x="1397" y="1317">COMO</text>
<text class="t" fill="#222"><tspan x="1405" y="1331">•</tspan><tspan x="1405" y="1372">•</tspan></text>
<text class="t"><tspan x="1415" y="1331">The textile factory started to export their fabrics to</tspan><tspan x="1415" dy="13.45">the USA. That of luxury silk became one of the main</tspan><tspan x="1415" dy="13.45">markets for Italian products</tspan><tspan x="1415" dy="13.45">Some Parisian designers, such as Jean Dessès,</tspan><tspan x="1415" dy="13.45">Madeleine de Rauch, Christian Dior, Jacques Fath</tspan><tspan x="1415" dy="13.45">and Hubert de Givenchy, bought their silks in Como</tspan></text>
</g>
<g id="n60">
<text class="h" x="1474" y="1172">COMO</text>
<text class="t" fill="#222"><tspan x="1481" y="1186">•</tspan><tspan x="1481" y="1267">•</tspan></text>
<text class="t"><tspan x="1492" y="1186">Designers started to create</tspan><tspan x="1492" dy="13.45">fabrics exclusively used for their</tspan><tspan x="1492" dy="13.45">collections and the textile</tspan><tspan x="1492" dy="13.45">companies weren’t allowed to</tspan><tspan x="1492" dy="13.45">label the fabrics. Same things in</tspan><tspan x="1492" dy="13.45">the prêt-à-porter production</tspan><tspan x="1492" dy="13.45">Fashion, textile design,</tspan><tspan x="1492" dy="13.45">production and distribution were</tspan><tspan x="1492" dy="13.45">organized by processing</tspan><tspan x="1492" dy="13.45">companies</tspan></text>
</g>
<g id="n1963a">
<text class="h e" x="1541" y="785">ITALY</text>
<text class="t e"><tspan x="1541" y="798">•  Beginning of the recession in Italy</tspan><tspan x="1541" dy="13.45">•  This caused significant damage</tspan><tspan x="1541" dy="13.45">to the industry, in particular to</tspan><tspan x="1541" dy="13.45">Biella, which was most dependent</tspan><tspan x="1541" dy="13.45">on the domestic market</tspan></text>
</g>
<g id="n1963b">
<text class="h e" x="1621" y="1092">COMO</text>
<text class="t e"><tspan x="1621" y="1106">The US, France and</tspan><tspan x="1621" dy="13.45">Germany absorbed 66% of</tspan><tspan x="1621" dy="13.45">the fabrics produced in</tspan><tspan x="1621" dy="13.45">Como for export</tspan></text>
</g>
<g id="n70">
<text class="h" x="1706" y="1096">ITALY</text>
<text class="t" fill="#222"><tspan x="1714" y="1111">•</tspan><tspan x="1714" y="1192">•</tspan><tspan x="1714" y="1272">•</tspan><tspan x="1714" y="1313">•</tspan></text>
<text class="t"><tspan x="1724" y="1111">The production of</tspan><tspan x="1724" dy="13.45">regenerated fabrics</tspan><tspan x="1724" dy="13.45">decreased because</tspan><tspan x="1724" dy="13.45">of  cheaper virgin</tspan><tspan x="1724" dy="13.45">wool textiles from</tspan><tspan x="1724" dy="13.45">developing countries</tspan><tspan x="1724" dy="13.45">Textile companies</tspan><tspan x="1724" dy="13.45">highlighted their</tspan><tspan x="1724" dy="13.45">identity selling</tspan><tspan x="1724" dy="13.45">clothing collections</tspan><tspan x="1724" dy="13.45">by their own to</tspan><tspan x="1724" dy="13.45">consumers</tspan><tspan x="1724" dy="13.45">Como specialized in</tspan><tspan x="1724" dy="13.45">the production of</tspan><tspan x="1724" dy="13.45">very high quality silks</tspan><tspan x="1724" dy="13.45">Textile companies</tspan><tspan x="1724" dy="13.45">restructured their</tspan><tspan x="1724" dy="13.45">organization and</tspan><tspan x="1724" dy="13.45">collaborate with</tspan><tspan x="1724" dy="13.45">emerging Italian</tspan><tspan x="1724" dy="13.45">designers</tspan></text>
</g>
<g id="n1971">
<text class="h e" x="1774" y="850">ITALY</text>
<text class="t e"><tspan x="1774" y="864">•  Walter Albini brought together</tspan><tspan x="1774" dy="13.45">articles from different companies</tspan><tspan x="1774" dy="13.45">in a single collection labeling</tspan><tspan x="1774" dy="13.45">products as ‘Walter Albini for’,</tspan><tspan x="1774" dy="13.45">followed by the name of each</tspan><tspan x="1774" dy="13.45">company</tspan><tspan x="1774" dy="13.45">•  Albini moved the promotion office</tspan><tspan x="1774" dy="13.45">in Milan such as Krizia, Ottavio</tspan><tspan x="1774" dy="13.45">Missoni, Versace, Gianfranco</tspan><tspan x="1774" dy="13.45">Ferré and Giorgio Armani</tspan></text>
</g>
<g id="n80">
<text class="h" x="1861" y="1096">ITALY</text>
<text class="t"><tspan x="1861" y="1111">Italian textile</tspan><tspan x="1861" dy="13.45">production centres</tspan><tspan x="1861" dy="13.45">benefited from the</tspan><tspan x="1861" dy="13.45">boom in Italian fashion,</tspan><tspan x="1861" dy="13.45">and at this juncture the</tspan><tspan x="1861" dy="13.45">smaller companies</tspan><tspan x="1861" dy="13.45">exhibited their</tspan><tspan x="1861" dy="13.45">products at</tspan><tspan x="1861" dy="13.45">international fairs and</tspan><tspan x="1861" dy="13.45">made promotional</tspan><tspan x="1861" dy="13.45">trips to the fashion</tspan><tspan x="1861" dy="13.45">capitals, each</tspan><tspan x="1861" dy="13.45">industrial city opened</tspan><tspan x="1861" dy="13.45">its own fair, such as</tspan><tspan x="1861" dy="13.45">Ideacomo (Como),</tspan><tspan x="1861" dy="13.45">Ideabiella (Biella) and</tspan><tspan x="1861" dy="13.45">PratoExpo (Prato)</tspan></text>
</g>
<g id="n90">
<text class="h e" x="1927" y="755">ITALY</text>
<text class="t e"><tspan x="1927" y="773">•  Silk companies met</tspan><tspan x="1927" dy="13.45">problems because</tspan><tspan x="1927" dy="13.45">of fashion change</tspan><tspan x="1927" dy="13.45">and the cheaper</tspan><tspan x="1927" dy="13.45">printed silk from the</tspan><tspan x="1927" dy="13.45">Far East and</tspan><tspan x="1927" dy="13.45">viscose.</tspan><tspan x="1927" dy="13.45">•  Some textile</tspan><tspan x="1927" dy="13.45">companies to</tspan><tspan x="1927" dy="13.45">combat the crisis</tspan><tspan x="1927" dy="13.45">and be more</tspan><tspan x="1927" dy="13.45">competitive on the</tspan><tspan x="1927" dy="13.45">market</tspan><tspan x="1927" dy="13.45">decentralized</tspan><tspan x="1927" dy="13.45">production, both in</tspan><tspan x="1927" dy="13.45">different Italian</tspan><tspan x="1927" dy="13.45">regions and</tspan><tspan x="1927" dy="13.45">abroad</tspan></text>
</g>
</svg>
